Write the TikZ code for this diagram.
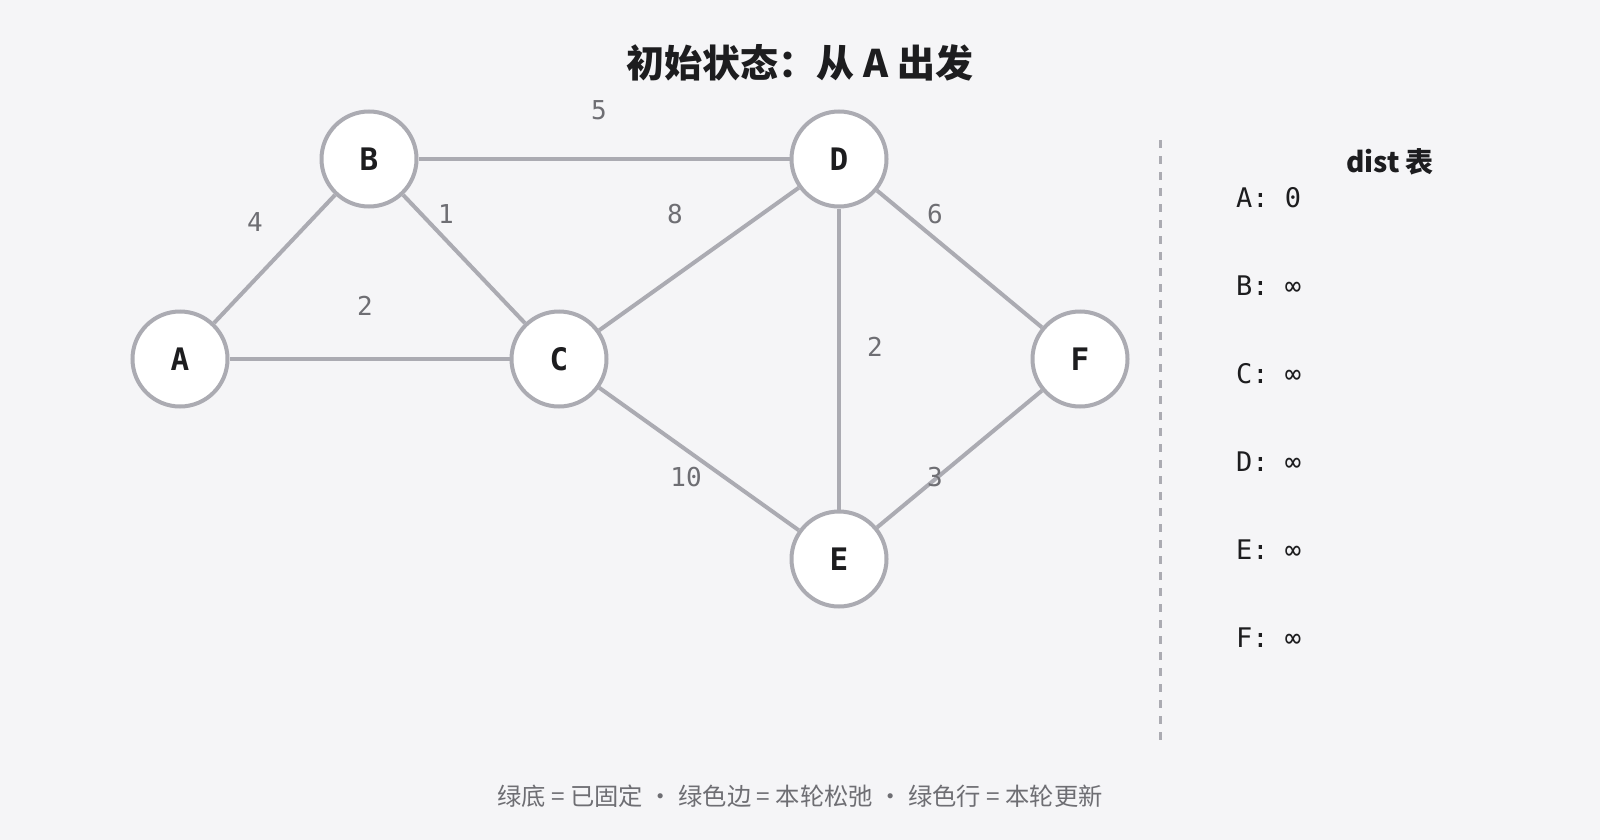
\documentclass[tikz,border=0pt]{standalone}
\usepackage{fontspec}
\setmonofont{DejaVu Sans Mono}
\newfontfamily\cjk{Noto Sans CJK SC}
\definecolor{bg}{HTML}{F5F5F7}
\definecolor{edgegray}{HTML}{ABABB2}
\definecolor{ink}{HTML}{1D1D1F}
\definecolor{mute}{HTML}{6E6E73}
\tikzset{
  vertex/.style={circle, draw=edgegray, line width=4pt, fill=white,
    minimum size=95pt, inner sep=0pt, text=ink,
    font=\ttfamily\bfseries\fontsize{31}{36}\selectfont},
  edge/.style={draw=edgegray, line width=4pt},
  weight/.style={inner sep=0pt, text=mute,
    font=\ttfamily\fontsize{26}{30}\selectfont},
  distrow/.style={anchor=west, inner sep=0pt, text=ink,
    font=\ttfamily\fontsize{27}{32}\selectfont},
}
\begin{document}
\begin{tikzpicture}[x=1pt,y=-1pt]
      \fill[bg] (0,0) rectangle (1600,840);
      \useasboundingbox (0,0) rectangle (1600,840);
      \node[text=ink, font=\cjk\bfseries\fontsize{38}{46}\selectfont] (title) at (800,63) {初始状态：从 A 出发};
      \draw
        (180,359) node[vertex] (A){A}
        (369,159) node[vertex] (B){B}
        (559,359) node[vertex] (C){C}
        (839,159) node[vertex] (D){D}
        (839,559) node[vertex] (E){E}
        (1080,359) node[vertex] (F){F};
      \begin{scope}[edge]
        \draw (A) to (B);
        \draw (A) to (C);
        \draw (B) to (C);
        \draw (B) to (D);
        \draw (C) to (D);
        \draw (C) to (E);
        \draw (D) to (E);
        \draw (D) to (F);
        \draw (E) to (F);
      \end{scope}
      % edge weights
      \node[weight] (wAB) at (255,222) {4};
      \node[weight] (wAC) at (365,306) {2};
      \node[weight] (wBC) at (446,214) {1};
      \node[weight] (wBD) at (599,110) {5};
      \node[weight] (wCD) at (675,214) {8};
      \node[weight] (wCE) at (686,477) {10};
      \node[weight] (wDE) at (875,347) {2};
      \node[weight] (wDF) at (935,214) {6};
      \node[weight] (wEF) at (935,477) {3};
      % dist table
      \coordinate (sepTop) at (1160,140);
      \coordinate (sepBot) at (1160,740);
      \draw[edgegray, line width=3pt, dash pattern=on 8pt off 8pt] (sepTop) -- (sepBot);
      \node[text=ink, font=\cjk\bfseries\fontsize{28}{34}\selectfont] (distTitle) at (1390,162) {dist 表};
      \node[distrow] (dA) at (1236,198) {A: 0};
      \node[distrow] (dB) at (1236,286) {B: ∞};
      \node[distrow] (dC) at (1236,374) {C: ∞};
      \node[distrow] (dD) at (1236,462) {D: ∞};
      \node[distrow] (dE) at (1236,550) {E: ∞};
      \node[distrow] (dF) at (1236,638) {F: ∞};
      \node[text=mute, font=\cjk\fontsize{24.3}{30}\selectfont] (legend) at (800,796) {绿底 = 已固定 · 绿色边 = 本轮松弛 · 绿色行 = 本轮更新};
    \end{tikzpicture}
\end{document}
